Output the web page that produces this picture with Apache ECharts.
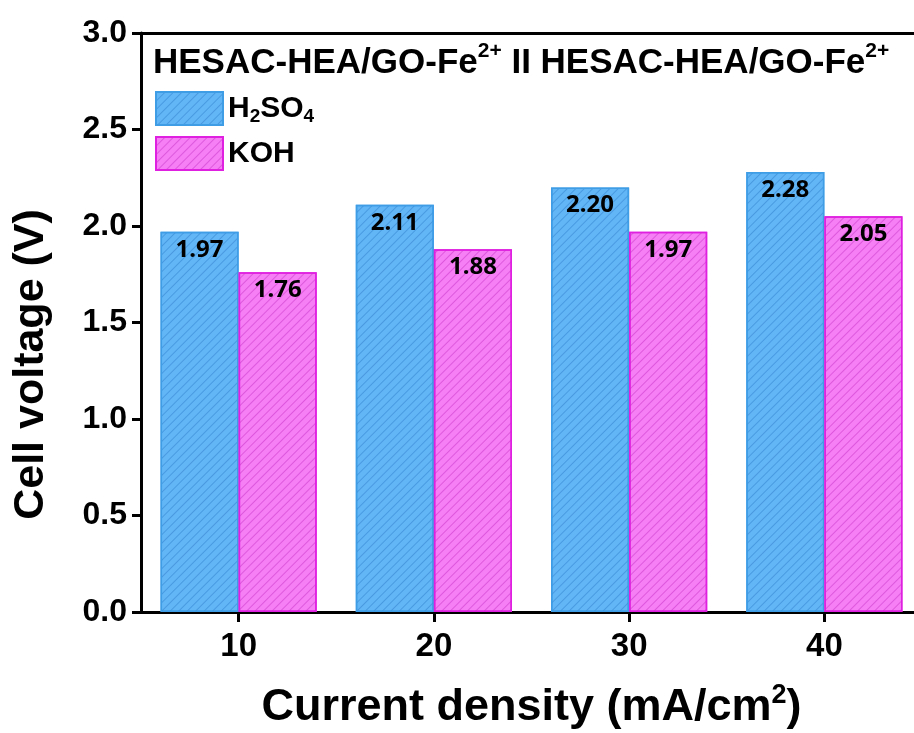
<!DOCTYPE html>
<html>
<head>
<meta charset="utf-8">
<title>Cell voltage vs current density</title>
<script src="https://cdn.jsdelivr.net/npm/echarts@6/dist/echarts.min.js"></script>
<style>
  html, body { margin: 0; padding: 0; background: #ffffff; }
  #chart { width: 914px; height: 733px; }
</style>
</head>
<body>
<div id="chart"></div>
<script>
// Current densities (mA/cm²) and measured cell voltages (V)
const currentDensity = ['10', '20', '30', '40'];
const voltageH2SO4 = [1.97, 2.11, 2.20, 2.28];
const voltageKOH = [1.76, 1.88, 1.97, 2.05];
const yTicks = { min: 0, max: 3.0, interval: 0.5 };

const SANS = '"Liberation Sans", Arial, sans-serif';
const LABEL_FONT = '"Noto Sans", "Open Sans", sans-serif';

// thin diagonal "/" hatching laid over the bar fill
function hatch(color) {
  return {
    symbol: 'rect',
    symbolSize: 1,
    dashArrayX: [1, 0],
    dashArrayY: [1, 5],
    rotation: -Math.PI / 4,
    color: color
  };
}

const chart = echarts.init(document.getElementById('chart'), null, { renderer: 'canvas' });

const valueLabel = {
  show: true,
  position: 'insideTop',
  distance: 6,
  color: '#000',
  fontFamily: LABEL_FONT,
  fontWeight: 'bold',
  fontSize: 24,
  formatter: p => p.value.toFixed(2)
};

chart.setOption({
  backgroundColor: '#ffffff',
  animation: false,
  title: {
    text: '{b|HESAC-HEA/GO-Fe}{sup|2+}{b| II HESAC-HEA/GO-Fe}{sup|2+}',
    left: 148,
    top: 36,
    textStyle: {
      rich: {
        b: { fontFamily: SANS, fontWeight: 'bold', fontSize: 35, color: '#000', verticalAlign: 'bottom', lineHeight: 40 },
        sup: { fontFamily: SANS, fontWeight: 'bold', fontSize: 21, color: '#000', verticalAlign: 'top', lineHeight: 40, padding: [0, 0, 14, 0] }
      }
    }
  },
  legend: {
    orient: 'vertical',
    left: 150,
    top: 86,
    icon: 'rect',
    itemWidth: 67,
    itemHeight: 33,
    itemGap: 10,
    data: ['H2SO4', 'KOH'],
    formatter: name => name === 'H2SO4'
      ? '{t|H}{sub|2}{t|SO}{sub|4}'
      : '{t|KOH}',
    textStyle: {
      rich: {
        t: { fontFamily: SANS, fontWeight: 'bold', fontSize: 30, color: '#000' },
        sub: { fontFamily: SANS, fontWeight: 'bold', fontSize: 19, color: '#000', padding: [16, 0, 0, 0] }
      }
    }
  },
  grid: { left: 141, top: 33, width: 781, height: 579, containLabel: false, outerBoundsMode: 'none' },
  xAxis: [{
    type: 'category',
    data: currentDensity,
    axisLine: { show: true, lineStyle: { color: '#000', width: 3 } },
    axisTick: { show: true, alignWithLabel: true, length: 10, lineStyle: { color: '#000', width: 3 } },
    axisLabel: { color: '#000', fontFamily: SANS, fontWeight: 'bold', fontSize: 33, margin: 18 },
    name: '{t|Current density (mA/cm}{sup|2}{t|)}',
    nameLocation: 'middle',
    nameGap: 70,
    nameTextStyle: {
      rich: {
        t: { fontFamily: SANS, fontWeight: 'bold', fontSize: 45, color: '#000' },
        sup: { fontFamily: SANS, fontWeight: 'bold', fontSize: 27, color: '#000', padding: [0, 0, 24, 0] }
      }
    }
  }, {
    type: 'category',
    position: 'top',
    data: currentDensity,
    axisLine: { show: true, lineStyle: { color: '#000', width: 3 } },
    axisTick: { show: false },
    axisLabel: { show: false }
  }],
  yAxis: {
    type: 'value',
    min: yTicks.min,
    max: yTicks.max,
    interval: yTicks.interval,
    splitLine: { show: false },
    axisLine: { show: true, lineStyle: { color: '#000', width: 3 } },
    axisTick: { show: true, length: 9, lineStyle: { color: '#000', width: 3 } },
    axisLabel: {
      color: '#000', fontFamily: SANS, fontWeight: 'bold', fontSize: 32, margin: 14,
      formatter: v => v.toFixed(1)
    },
    name: 'Cell voltage (V)',
    nameLocation: 'middle',
    nameGap: 88,
    nameTextStyle: {
      color: '#000', fontFamily: SANS, fontWeight: 'bold', fontSize: 43,
      padding: [0, 84, 0, 0]
    }
  },
  series: [{
    name: 'H2SO4',
    type: 'bar',
    data: voltageH2SO4,
    barWidth: '40%',
    barGap: '0%',
    itemStyle: { color: '#63b6f6', borderColor: '#3f9de6', borderWidth: 1.5, decal: hatch('rgba(40,120,200,0.45)') },
    label: valueLabel
  }, {
    name: 'KOH',
    type: 'bar',
    data: voltageKOH,
    barWidth: '40%',
    barGap: '0%',
    itemStyle: { color: '#f67ff5', borderColor: '#e020e0', borderWidth: 1.5, decal: hatch('rgba(190,40,190,0.45)') },
    label: valueLabel
  }]
});
</script>
</body>
</html>
